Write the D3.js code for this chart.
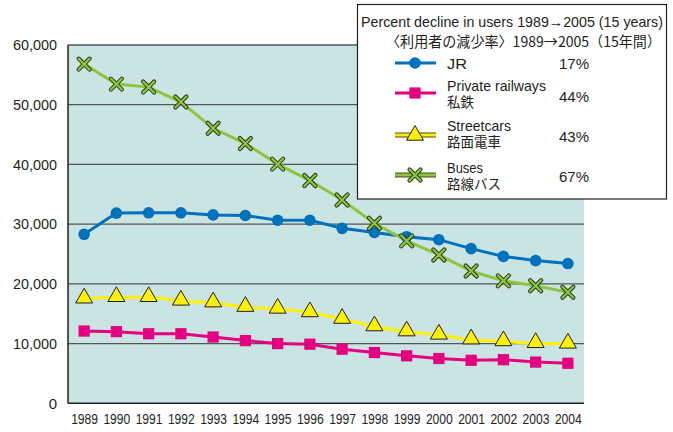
<!DOCTYPE html>
<html><head><meta charset="utf-8">
<script src="https://cdn.jsdelivr.net/npm/d3@7"></script>
<style>
body{margin:0;background:#fff;}
svg{display:block;}
text{font-family:"Liberation Sans",Arial,sans-serif;fill:#231f20;}
.jp{font-family:"Noto Sans CJK JP",sans-serif;}
</style></head>
<body>
<svg id="c" width="673" height="432"></svg>
<script>
const years = ["1989","1990","1991","1992","1993","1994","1995","1996","1997","1998","1999","2000","2001","2002","2003","2004"];
const jr = [28300,31850,31900,31900,31550,31450,30650,30650,29300,28600,27900,27400,25900,24600,23900,23400];
const privateRail = [12100,12000,11650,11650,11100,10500,10000,9900,9050,8500,7950,7500,7200,7300,6900,6700];
const streetcars = [17500,17750,17750,17150,16850,16100,15800,15200,14100,12850,12000,11450,10650,10350,10050,9950];
const buses = [56800,53450,52950,50450,46050,43500,40050,37300,34050,30150,27200,24850,22150,20500,19700,18600];
const yTicks = [0,10000,20000,30000,40000,50000,60000];
const legendTitle1 = "Percent decline in users 1989\u21922005 (15 years)";
const legendTitle2 = "\u3008利用者の減少率\u30091989\u21922005\uFF0815年間\uFF09";
const seriesNames = [["JR"],["Private railways","私鉄"],["Streetcars","路面電車"],["Buses","路線バス"]];
const declines = ["17%","44%","43%","67%"];

const svg = d3.select("#c");
const L=68,R=584,T=45,B=403.3;
const x = d3.scalePoint().domain(years).range([L,R]).padding(0.5);
const y = d3.scaleLinear().domain([0,60000]).range([B,T]);

svg.append("rect").attr("x",L).attr("y",T).attr("width",R-L).attr("height",B-T).attr("fill","#c9e4e3");
svg.append("g").selectAll("line").data(yTicks.filter(d=>d>0)).join("line")
  .attr("x1",L).attr("x2",R).attr("y1",d=>y(d)).attr("y2",d=>y(d))
  .attr("stroke","#555").attr("stroke-width",1.3);
svg.append("line").attr("x1",L).attr("x2",L).attr("y1",T).attr("y2",B).attr("stroke","#231f20").attr("stroke-width",1.5);
svg.append("line").attr("x1",L).attr("x2",R).attr("y1",B).attr("y2",B).attr("stroke","#231f20").attr("stroke-width",1.5);

const yAxis = d3.axisLeft(y).tickValues(yTicks).tickSize(0).tickPadding(11).tickFormat(d3.format(","));
const ya = svg.append("g").attr("transform",`translate(${L},0)`).call(yAxis);
ya.select(".domain").remove();
ya.selectAll("text").attr("font-size",15).attr("font-family",null).style("fill","#231f20")
  .each(function(d){ if(d>0){ d3.select(this).attr("textLength",44).attr("lengthAdjust","spacingAndGlyphs"); } });
const xAxis = d3.axisBottom(x).tickSize(0).tickPadding(11);
const xa = svg.append("g").attr("transform",`translate(0,${B})`).call(xAxis);
xa.select(".domain").remove();
xa.selectAll("text").attr("font-size",14).attr("font-family",null).style("fill","#231f20")
  .attr("textLength",27).attr("lengthAdjust","spacingAndGlyphs");

const line = d3.line().x((d,i)=>x(years[i])).y(d=>y(d));
const line2 = d3.line().curve(d3.curveMonotoneX).x((d,i)=>x(years[i])).y(d=>y(d));

function drawSeries(data,color,gen){
  svg.append("path").datum(data).attr("d",gen).attr("fill","none").attr("stroke",color).attr("stroke-width",3);
}
drawSeries(streetcars,"#fff100",line2);
drawSeries(privateRail,"#e4007f",line);
drawSeries(jr,"#0071bc",line);
drawSeries(buses,"#8cc63f",line);

function marker(g,type,cx,cy){
  if(type==="circle") g.append("circle").attr("cx",cx).attr("cy",cy).attr("r",5.8).attr("fill","#0071bc");
  else if(type==="square") g.append("rect").attr("x",cx-5.6).attr("y",cy-5.6).attr("width",11.2).attr("height",11.2).attr("fill","#e4007f");
  else if(type==="tri") g.append("path").attr("d","M0,-10.5L8.5,4.2L-8.5,4.2Z").attr("transform",`translate(${cx},${cy})`).attr("fill","#fff100").attr("stroke","#231f20").attr("stroke-width",1);
  else if(type==="x"){
    const p="M-5.5,-5.5L5.5,5.5M5.5,-5.5L-5.5,5.5";
    g.append("path").attr("d",p).attr("transform",`translate(${cx},${cy})`).attr("stroke","#2b3a1a").attr("stroke-width",4.2).attr("stroke-linecap","round");
    g.append("path").attr("d",p).attr("transform",`translate(${cx},${cy})`).attr("stroke","#8cc63f").attr("stroke-width",2.2).attr("stroke-linecap","round");
  }
}
const mg = svg.append("g");
streetcars.forEach((d,i)=>marker(mg,"tri",x(years[i]),y(d)));
privateRail.forEach((d,i)=>marker(mg,"square",x(years[i]),y(d)));
jr.forEach((d,i)=>marker(mg,"circle",x(years[i]),y(d)));
buses.forEach((d,i)=>marker(mg,"x",x(years[i]),y(d)));

const lg = svg.append("g");
lg.append("rect").attr("x",357.5).attr("y",4.5).attr("width",309).attr("height",194.5).attr("fill","#fff").attr("stroke","#231f20").attr("stroke-width",1.2);
lg.append("text").attr("x",361).attr("y",26.5).attr("font-size",14.5).attr("textLength",302).attr("lengthAdjust","spacingAndGlyphs").text(legendTitle1);
lg.append("text").attr("class","jp").attr("x",386).attr("y",47).attr("font-size",14.5).attr("textLength",275).attr("lengthAdjust","spacingAndGlyphs").text(legendTitle2);
const rows=[{y:63,c:"#0071bc",m:"circle"},{y:93,c:"#e4007f",m:"square"},{y:135,c:"#fff100",m:"tri"},{y:175,c:"#8cc63f",m:"x"}];
const base1=[68.5,90.5,131,173.3];
const base2=[0,106.5,147,189];
const pctBase=[69,101.7,141.7,181.7];
rows.forEach((r,i)=>{
  if(r.m==="tri"||r.m==="x"){
    lg.append("line").attr("x1",395).attr("x2",436).attr("y1",r.y).attr("y2",r.y).attr("stroke","#4a4a20").attr("stroke-width",5);
  }
  lg.append("line").attr("x1",395).attr("x2",436).attr("y1",r.y).attr("y2",r.y).attr("stroke",r.c).attr("stroke-width",3);
  marker(lg,r.m,415,r.m==="tri"?r.y+1:r.y);
  const names = seriesNames[i];
  if(names.length===1){
    lg.append("text").attr("x",447).attr("y",base1[i]).attr("font-size",14.5).attr("textLength",20).attr("lengthAdjust","spacingAndGlyphs").text(names[0]);
  } else {
    lg.append("text").attr("x",447).attr("y",base1[i]).attr("font-size",14.5).attr("textLength",i===1?99:(i===2?64:36)).attr("lengthAdjust","spacingAndGlyphs").text(names[0]);
    lg.append("text").attr("class","jp").attr("x",447).attr("y",base2[i]).attr("font-size",13.5).text(names[1]);
  }
  lg.append("text").attr("x",559).attr("y",pctBase[i]).attr("font-size",15.5).attr("textLength",30).attr("lengthAdjust","spacingAndGlyphs").text(declines[i]);
});
</script>
</body></html>
